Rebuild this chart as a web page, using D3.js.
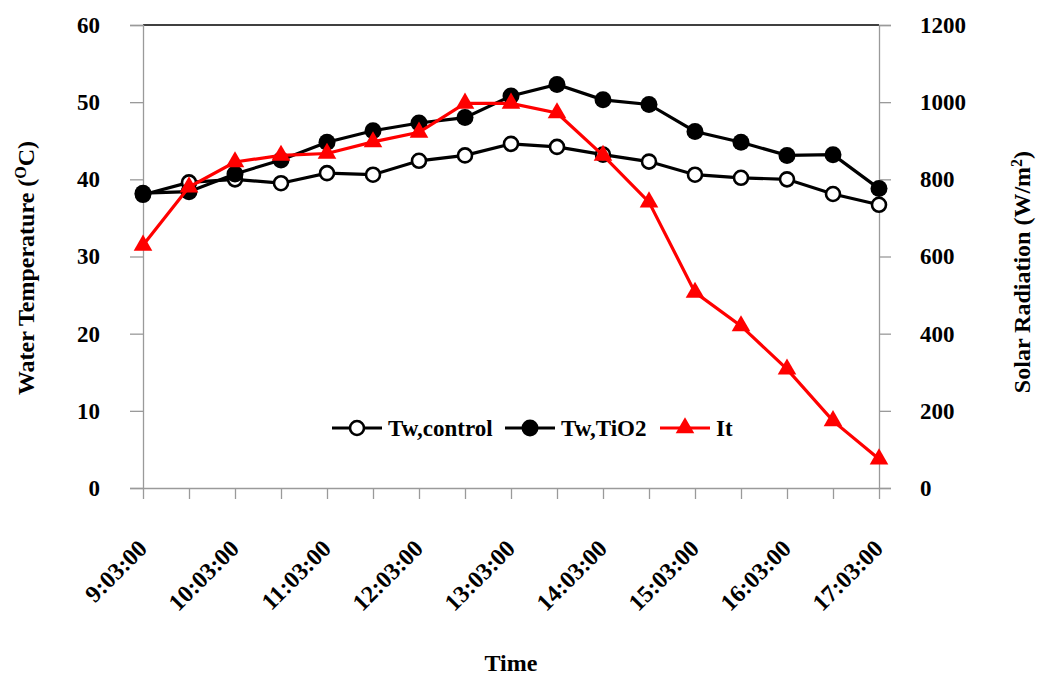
<!DOCTYPE html>
<html lang="en">
<head>
    <meta charset="UTF-8">
    <title>Water temperature and solar radiation</title>
    <script src="https://cdn.jsdelivr.net/npm/d3@7"></script>
    <style>
        body { margin: 0; background: #fff; }
        #chart { width: 1040px; height: 676px; }
        text { font-family: "Liberation Serif", "DejaVu Serif", serif; font-weight: bold; }
    </style>
</head>
<body>
<div id="chart"></div>
<script>
    // data
    var times = ["9:03:00", "9:33:00", "10:03:00", "10:33:00", "11:03:00", "11:33:00", "12:03:00", "12:33:00",
        "13:03:00", "13:33:00", "14:03:00", "14:33:00", "15:03:00", "15:33:00", "16:03:00", "16:33:00", "17:03:00"];
    var timeLabels = ["9:03:00", "10:03:00", "11:03:00", "12:03:00", "13:03:00", "14:03:00", "15:03:00", "16:03:00", "17:03:00"];
    var twControl = [38.0, 39.6, 40.0, 39.5, 40.8, 40.6, 42.4, 43.1, 44.6, 44.2, 43.2, 42.3, 40.6, 40.2, 40.0, 38.1, 36.7];
    var twTiO2 = [38.2, 38.4, 40.7, 42.5, 44.8, 46.3, 47.3, 48.0, 50.8, 52.3, 50.3, 49.7, 46.2, 44.8, 43.1, 43.2, 38.8];
    var it = [629, 780, 845, 862, 867, 897, 922, 997, 997, 972, 862, 741, 507, 420, 308, 174, 75];
    var leftTicks = [0, 10, 20, 30, 40, 50, 60];
    var rightTicks = [0, 200, 400, 600, 800, 1000, 1200];

    var W = 1040, H = 676;
    var margin = {top: 25, right: 161, bottom: 188, left: 143};
    var x0 = margin.left, x1 = W - margin.right, yTop = margin.top, yBot = H - margin.bottom;
    var serif = "'Liberation Serif', 'DejaVu Serif', serif";

    var svg = d3.select("#chart").append("svg")
        .attr("width", W)
        .attr("height", H)
        .attr("font-family", serif)
        .attr("font-weight", "bold");

    var x = d3.scalePoint().domain(times).range([x0, x1]);
    var yL = d3.scaleLinear().domain([0, 60]).range([yBot, yTop]);
    var yR = d3.scaleLinear().domain([0, 1200]).range([yBot, yTop]);

    var grey = "#9a9a9a";

    // top border of plot area
    svg.append("line")
        .attr("x1", x0).attr("x2", x1)
        .attr("y1", yTop).attr("y2", yTop)
        .attr("stroke", "#000").attr("stroke-width", 1.5);

    // left axis
    var gL = svg.append("g")
        .attr("transform", "translate(" + x0 + ",0)")
        .call(d3.axisLeft(yL).tickValues(leftTicks).tickSize(13));
    // right axis
    var gR = svg.append("g")
        .attr("transform", "translate(" + x1 + ",0)")
        .call(d3.axisRight(yR).tickValues(rightTicks).tickSize(12).tickFormat(d3.format("d")));
    // bottom axis, ticks at every point
    var gB = svg.append("g")
        .attr("transform", "translate(0," + yBot + ")")
        .call(d3.axisBottom(x).tickSize(11).tickSizeOuter(0).tickFormat(function (d) {
            return timeLabels.indexOf(d) >= 0 ? d : "";
        }));

    [gL, gR, gB].forEach(function (g) {
        g.attr("font-family", serif).attr("font-weight", "bold");
        g.select(".domain").attr("stroke", grey).attr("stroke-width", 1.3);
        g.selectAll(".tick line").attr("stroke", grey).attr("stroke-width", 1.3);
        g.selectAll("text").attr("fill", "#000").attr("font-size", 23);
    });
    gL.selectAll(".tick text").attr("text-anchor", "end").attr("x", -43);
    gR.selectAll(".tick text").attr("text-anchor", "start").attr("x", 41);
    gB.selectAll(".tick text")
        .attr("text-anchor", "end")
        .attr("font-size", 24)
        .attr("dy", 0)
        .attr("y", 0)
        .attr("transform", "translate(5,62) rotate(-45)");

    // lines
    var lineL = d3.line().x(function (d, i) { return x(times[i]); }).y(function (d) { return yL(d); });
    var lineR = d3.line().x(function (d, i) { return x(times[i]); }).y(function (d) { return yR(d); });

    svg.append("path").attr("d", lineL(twControl))
        .attr("fill", "none").attr("stroke", "#000").attr("stroke-width", 3.2);
    svg.append("path").attr("d", lineL(twTiO2))
        .attr("fill", "none").attr("stroke", "#000").attr("stroke-width", 3.2);

    var tri = d3.symbol().type(d3.symbolTriangle).size(150);

    // open circles
    svg.append("g").selectAll("circle")
        .data(twControl).enter().append("circle")
        .attr("cx", function (d, i) { return x(times[i]); })
        .attr("cy", function (d) { return yL(d); })
        .attr("r", 7)
        .attr("fill", "#fff").attr("stroke", "#000").attr("stroke-width", 2.6);
    // filled circles
    svg.append("g").selectAll("circle")
        .data(twTiO2).enter().append("circle")
        .attr("cx", function (d, i) { return x(times[i]); })
        .attr("cy", function (d) { return yL(d); })
        .attr("r", 8.5)
        .attr("fill", "#000");

    // radiation
    svg.append("path").attr("d", lineR(it))
        .attr("fill", "none").attr("stroke", "#ff0000").attr("stroke-width", 3.2);
    svg.append("g").selectAll("path")
        .data(it).enter().append("path")
        .attr("d", tri)
        .attr("transform", function (d, i) { return "translate(" + x(times[i]) + "," + yR(d) + ")"; })
        .attr("fill", "#ff0000");

    // legend
    var leg = svg.append("g").attr("transform", "translate(0,428)");
    var legItems = [
        {name: "Tw,control", x: 332, kind: "open"},
        {name: "Tw,TiO2", x: 505, kind: "filled"},
        {name: "It", x: 660, kind: "tri"}
    ];
    legItems.forEach(function (d) {
        var col = d.kind === "tri" ? "#ff0000" : "#000";
        leg.append("line").attr("x1", d.x).attr("x2", d.x + 50).attr("y1", 0).attr("y2", 0)
            .attr("stroke", col).attr("stroke-width", 3.2);
        if (d.kind === "open") {
            leg.append("circle").attr("cx", d.x + 25).attr("cy", 0).attr("r", 7)
                .attr("fill", "#fff").attr("stroke", "#000").attr("stroke-width", 2.6);
        } else if (d.kind === "filled") {
            leg.append("circle").attr("cx", d.x + 25).attr("cy", 0).attr("r", 8.5).attr("fill", "#000");
        } else {
            leg.append("path").attr("d", tri).attr("transform", "translate(" + (d.x + 25) + ",0)").attr("fill", "#ff0000");
        }
        leg.append("text").attr("x", d.x + 56).attr("y", 8).attr("font-size", 23).text(d.name);
    });

    // axis titles
    var tL = svg.append("text")
        .attr("transform", "translate(34,268) rotate(-90)")
        .attr("text-anchor", "middle").attr("font-size", 24);
    tL.append("tspan").text("Water Temperature (");
    tL.append("tspan").attr("baseline-shift", "super").attr("font-size", 16).text("O");
    tL.append("tspan").text("C)");

    var tR = svg.append("text")
        .attr("transform", "translate(1030,272) rotate(-90)")
        .attr("text-anchor", "middle").attr("font-size", 24);
    tR.append("tspan").text("Solar Radiation (W/m");
    tR.append("tspan").attr("baseline-shift", "super").attr("font-size", 16).text("2");
    tR.append("tspan").text(")");

    svg.append("text")
        .attr("x", 511).attr("y", 671)
        .attr("text-anchor", "middle").attr("font-size", 24)
        .text("Time");
</script>
</body>
</html>
